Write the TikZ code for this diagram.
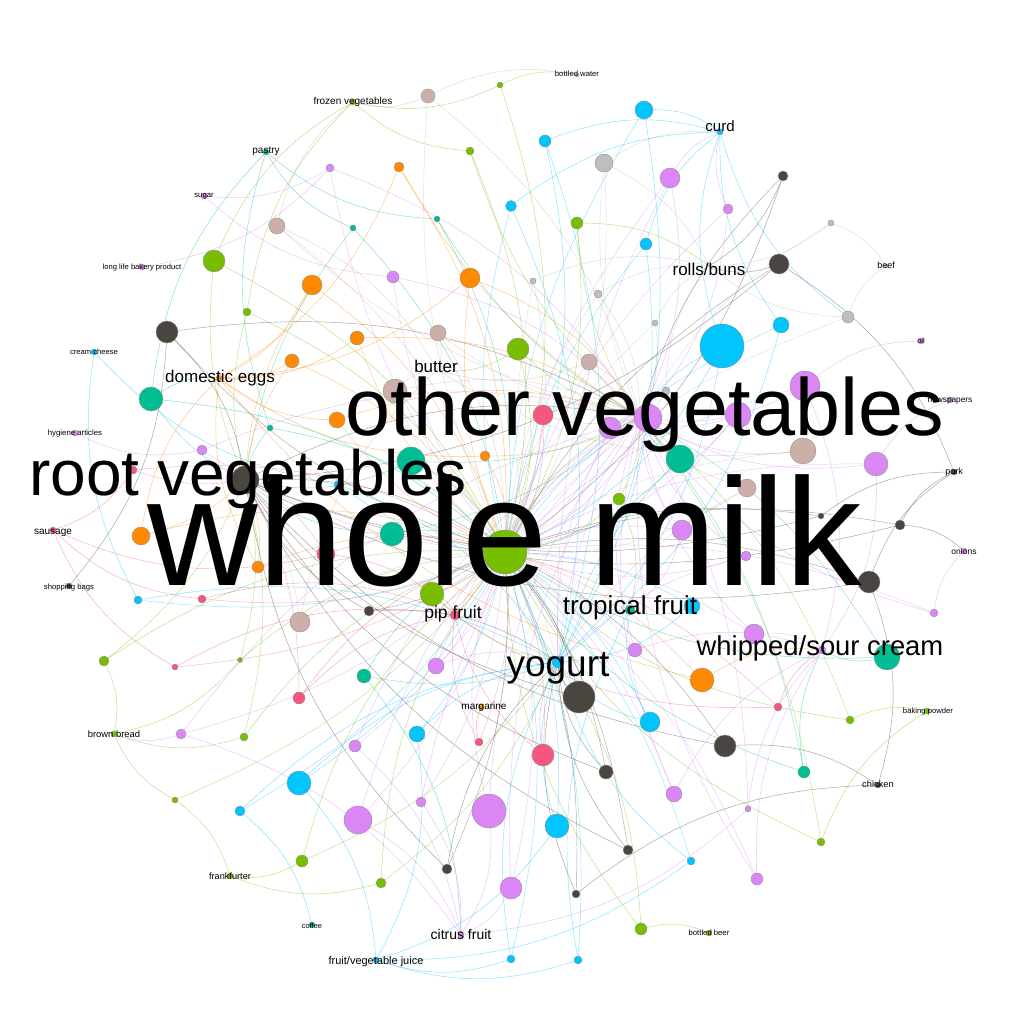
\documentclass[tikz,border=0pt]{standalone}
\usepackage{fontspec}
\setmainfont{Liberation Sans}
\pgfdeclarelayer{bg}
\pgfsetlayers{bg,main}
\definecolor{Cg}{HTML}{78BE00}
\definecolor{Cb}{HTML}{00C5FF}
\definecolor{Cp}{HTML}{DA87F5}
\definecolor{Co}{HTML}{FF8A00}
\definecolor{Ct}{HTML}{00BD94}
\definecolor{Cd}{HTML}{4B4540}
\definecolor{Cn}{HTML}{CDAFAA}
\definecolor{Cr}{HTML}{F4567F}
\definecolor{Cy}{HTML}{BEBEBE}
\newcommand\fsz[1]{\fontsize{#1}{#1}\selectfont}
\begin{document}
\begin{tikzpicture}[x=1pt,y=-1pt,
 rule/.style={circle, draw=black!45, line width=0.35pt, inner sep=0pt},
 idot/.style={circle, draw=black!45, line width=0.3pt, inner sep=0pt, minimum size=6},
 lab/.style={anchor=base, inner sep=0pt, text=black},
 edge/.style={line width=0.45pt, draw opacity=0.5, bend left=18},
 edgeb/.style={line width=0.45pt, draw opacity=0.45, bend right=14}]
\begin{pgfonlayer}{bg}
\fill[white] (0,0) rectangle (1024,1024);
\end{pgfonlayer}
\useasboundingbox (0,0) rectangle (1024,1024);

% item anchor points
\coordinate (wm) at (505,552);
\coordinate (ov) at (640,417);
\coordinate (rv) at (245,480);
\coordinate (rb) at (709,266);
\coordinate (bu) at (437,370);
\node[idot, fill=Cb, minimum size=12] (yo) at (558,662) {};
\node[idot, fill=Cp, minimum size=8] (wsc) at (822,650) {};
\node[idot, fill=Ct, minimum size=10] (tf) at (630,610) {};
\node[idot, fill=Cr, minimum size=10] (pf) at (455,615) {};
\node[idot, fill=Co] (mar) at (481,707) {};
\node[idot, fill=Co] (de) at (219,378) {};
\node[idot, fill=Cb] (curd) at (720,132) {};
\node[idot, fill=Cp] (cf) at (461,935) {};
\node[idot, fill=Cb] (fvj) at (376,960) {};
\node[idot, fill=Cg] (fra) at (230,876) {};
\node[idot, fill=Cg] (bb) at (114,734) {};
\node[idot, fill=Ct] (cof) at (312,925) {};
\node[idot, fill=Cr] (sau) at (53,530) {};
\node[idot, fill=Cd] (sb) at (69,586) {};
\node[idot, fill=Cp] (hyg) at (75,433) {};
\node[idot, fill=Cb] (cc) at (94,352) {};
\node[idot, fill=Cp] (llbp) at (142,267) {};
\node[idot, fill=Cp] (sug) at (204,196) {};
\node[idot, fill=Ct] (pas) at (266,152) {};
\node[idot, fill=Cg] (fv) at (353,102) {};
\node[idot, fill=Cn, minimum size=4] (bw) at (577,75) {};
\node[idot, fill=Cy, minimum size=4] (beef) at (886,266) {};
\node[idot, fill=Cp] (oil) at (921,341) {};
\node[idot, fill=Cp] (news) at (950,400) {};
\node[idot, fill=Cd] (pork) at (954,472) {};
\node[idot, fill=Cp] (oni) at (964,551) {};
\node[idot, fill=Cg] (bp) at (927,711) {};
\node[idot, fill=Cd] (chk) at (878,785) {};
\node[idot, fill=Cg] (bbe) at (709,933) {};

% rule circles
\foreach \n/\x/\y/\s/\c in {
1/428/96/14/n, 2/500/85/6/g, 3/644/110/18/b, 4/545/141/12/b, 5/604/163/18/y,
6/670/178/20/p, 7/783/176/10/d, 8/470/151/8/g, 9/399/167/10/o, 10/330/168/8/p,
11/577/223/12/g, 12/511/206/11/b, 13/728/209/10/p, 14/646/244/12/b, 15/437/219/6/t,
16/353/228/6/t, 17/277/226/16/n, 18/214/261/22/g, 19/779/264/20/d, 20/831/223/6/y,
21/393/277/12/p, 22/312/285/20/o, 23/470/278/20/o, 24/533/281/6/y, 25/598/294/8/y,
26/247/312/8/g, 27/167/332/22/d, 28/655/323/6/y, 29/848/317/12/y, 30/781/325/16/b,
31/722/346/44/b, 32/518/349/22/g, 33/438/333/16/n, 34/357/338/14/o, 35/292/361/14/o,
36/589/362/16/n, 37/805/386/30/p, 38/151/399/24/t, 39/395/391/24/n, 40/337/420/16/o,
41/270/428/6/t, 42/543/415/20/r, 43/666/391/8/y, 44/610/428/22/p, 45/738/415/26/p,
46/411/461/28/t, 47/485/456/10/o, 48/202/450/10/p, 49/133/470/8/r, 50/245/480/28/d,
51/339/485/10/b, 52/680/459/28/t, 53/803/451/26/n, 54/876/464/24/p, 55/747/488/18/n,
56/619/499/12/g, 57/821/516/6/d, 58/900/525/10/d, 59/682/530/20/p, 60/392/534/24/t,
61/326/554/18/r, 62/505/552/44/g, 63/141/536/18/o, 64/258/567/12/o, 65/869/582/22/d,
66/934/613/8/p, 67/432/594/24/g, 68/369/611/10/d, 70/692/606/16/b,
71/138/600/8/b, 72/202/599/8/r, 73/300/622/20/n, 74/754/634/20/p, 75/887/657/26/t,
76/175/667/6/r, 77/240/660/5/g, 78/104/661/10/g, 79/436/666/16/p, 80/364/676/14/t,
81/702/680/24/o, 82/579/697/32/d, 83/299/698/12/r, 84/778/707/8/r, 85/850/720/8/g,
86/181/734/10/p, 87/244/737/8/g, 88/417/734/16/b, 89/479/742/8/r, 90/650/722/20/b,
91/355/746/12/p, 92/543/755/22/r, 93/725/746/22/d, 94/606/772/14/d, 95/804/772/12/t,
96/299/783/24/b, 97/175/800/6/g, 98/240/811/10/b, 99/421/802/10/p, 100/489/811/34/p,
101/358/820/28/p, 102/674/794/16/p, 103/748/809/6/p, 104/557/826/24/b, 105/821/842/8/g,
106/628/850/10/d, 107/302/861/12/g, 108/447/869/10/d, 109/691/861/8/b, 110/381/883/10/g,
111/511/888/22/p, 112/576/894/8/d, 113/757/879/12/p, 114/641/929/12/g, 115/511/959/8/b,
116/578/960/8/b, 117/648/418/28/p, 118/746/556/10/p, 119/635/650/14/p}
  \node[rule, fill=C\c, minimum size=\s] (r\n) at (\x,\y) {};

% connectors
\begin{pgfonlayer}{bg}
\foreach \a/\b/\c in {
1/fv/n,1/bw/n,1/ov/n, 2/bw/g,2/fv/g,2/wm/g, 3/curd/b,3/yo/b, 4/curd/b,4/yo/b,4/wm/b,
5/rb/y,5/curd/y,5/wm/y, 6/curd/p,6/ov/p, 7/rb/d,7/wm/d, 8/fv/g,8/wm/g, 9/de/o,9/wm/o,
10/sug/p,10/llbp/p,10/ov/p, 11/wm/g,11/rb/g, 12/curd/b,12/yo/b, 13/curd/p,13/ov/p,
14/curd/b,14/yo/b, 15/pas/t,15/wm/t, 16/pas/t,16/wm/t, 17/fv/n,17/bu/n,17/wm/n,
18/fv/g,18/wm/g, 19/rb/d,19/rv/d,19/pork/d, 20/beef/y,20/rb/y, 21/sug/p,21/ov/p,
22/de/o,22/wm/o, 23/de/o,23/ov/o, 24/rb/y,24/wm/y, 25/rb/y,25/ov/y, 26/fv/g,26/wm/g,
27/sb/d,27/rv/d,27/ov/d, 28/rb/y,28/ov/y, 29/rb/y,29/beef/y,29/curd/b, 30/curd/b,30/yo/b,
31/curd/b,31/yo/b,31/wm/b, 32/wm/g,32/bu/g, 33/bu/n,33/wm/n, 34/de/o,34/ov/o,
35/de/o,35/wm/o, 36/bu/n,36/ov/n, 37/ov/p,37/wsc/p,37/oil/p, 38/pas/t,38/de/t,38/wm/t,
39/bu/n,39/ov/n, 40/de/o,40/ov/o, 41/pas/t,41/wm/t, 42/pf/r,42/wm/r, 43/rb/y,43/ov/y,
44/ov/p,44/wm/p, 45/ov/p,45/wm/p, 46/wm/t,46/rv/t, 47/de/o,47/wm/o, 48/hyg/p,48/ov/p,
49/sau/r,49/wm/r, 50/wm/d,50/ov/d, 51/yo/b,51/cc/b, 52/ov/t,52/wm/t, 53/bu/n,53/ov/n,
54/ov/p,54/news/p,54/wsc/p, 55/wm/n,55/ov/n, 56/wm/g,56/tf/g, 57/pork/d,57/rv/d,
58/pork/d,58/oni/d,58/rv/d, 59/ov/p,59/tf/p, 60/rv/t,60/wm/t, 61/sau/r,61/pf/r,61/wm/r,
62/ov/g, 63/de/o,63/wm/o, 64/de/o,64/wm/o, 65/pork/d,65/chk/d,65/rv/d, 66/oni/p,66/ov/p,
67/wm/g,67/pf/g, 68/rv/d,68/yo/d, 70/tf/b,70/yo/b, 71/cc/b,71/yo/b, 72/sau/r,72/pf/r,
73/bu/n,73/wm/n, 74/wsc/p,74/ov/p, 75/wsc/t,75/wm/t, 76/sau/r,76/pf/r, 77/bb/g,77/wm/g,
78/bb/g,78/wm/g, 79/ov/p,79/yo/p, 80/wm/t,80/cf/t, 81/de/o,81/wsc/o, 82/yo/d,82/rv/d,
83/pf/r,83/wm/r, 84/wsc/r,84/pf/r, 85/bp/g,85/wm/g, 86/bb/p,86/cf/p,86/ov/p, 87/bb/g,87/wm/g,
88/yo/b,88/fvj/b, 89/mar/r,89/pf/r, 90/yo/b,90/tf/b, 91/ov/p,91/cf/p, 92/pf/r,92/yo/r,
93/chk/d,93/rv/d, 94/yo/d,94/rv/d, 95/wsc/t,95/wm/t, 96/fvj/b,96/yo/b, 97/bb/g,97/fra/g,
98/cof/b,98/yo/b, 99/cf/p,99/ov/p, 100/cf/p,100/ov/p,100/wm/p, 101/ov/p,101/cf/p,
102/wsc/p,102/ov/p, 103/wsc/p,103/cf/p, 104/fvj/b,104/yo/b, 105/bp/g,105/wm/g,
106/yo/d,106/rv/d, 107/fra/g,107/wm/g, 108/rv/d,108/yo/d, 109/yo/b,109/fvj/b,
110/fra/g,110/wm/g, 111/cf/p,111/ov/p, 112/chk/d,112/yo/d, 113/wsc/p,113/ov/p,
114/bbe/g,114/wm/g, 115/fvj/b,115/yo/b, 116/tf/b,116/fvj/b, 117/wm/p, 118/ov/p,118/wm/p,
119/wsc/p,119/ov/p}
  \draw[edge, draw=C\c] (r\a) to (\b);
% further connectors to the large items
\foreach \a/\b/\c in {
1/wm/n, 3/wm/b, 5/ov/y, 6/wm/p, 6/yo/p, 7/ov/d, 8/ov/g, 9/ov/o, 10/wm/p, 11/ov/g,
12/wm/b, 13/wm/p, 14/wm/b, 15/ov/t, 16/rv/t, 17/ov/n, 18/rv/g, 19/wm/d, 20/ov/y,
21/wm/p, 22/rv/o, 23/wm/o, 24/yo/y, 25/wm/y, 26/rv/g, 27/wm/d, 28/wm/y, 29/wm/y,
30/wm/b, 31/ov/b, 32/ov/g, 33/ov/n, 34/wm/o, 35/rv/o, 36/wm/n, 37/wm/p, 38/rv/t,
39/wm/n, 40/wm/o, 41/rv/t, 42/ov/r, 43/wm/y, 44/yo/p, 45/tf/p, 46/ov/t, 47/ov/o,
48/wm/p, 49/rv/r, 51/wm/b, 52/yo/t, 53/wm/n, 54/wm/p, 55/yo/n, 56/ov/g, 57/wm/d,
58/wm/d, 59/wm/p, 60/ov/t, 61/rv/r, 62/yo/g, 63/rv/o, 64/rv/o, 65/wm/d, 66/wm/p,
67/yo/g, 68/wm/d, 70/wm/b, 71/wm/b, 72/wm/r, 73/rv/n, 74/wm/p, 75/ov/t, 76/wm/r,
77/rv/g, 78/rv/g, 79/wm/p, 80/yo/t, 81/wm/o, 82/wm/d, 83/rv/r, 84/wm/r, 85/ov/g,
86/wm/p, 87/rv/g, 88/wm/b, 89/wm/r, 90/wm/b, 91/wm/p, 92/wm/r, 93/wm/d, 94/wm/d,
95/ov/t, 96/wm/b, 97/wm/g, 98/wm/b, 99/wm/p, 101/wm/p, 102/wm/p, 103/ov/p, 104/wm/b,
105/ov/g, 106/wm/d, 107/yo/g, 108/wm/d, 109/wm/b, 110/yo/g, 111/wm/p, 112/wm/d,
113/wm/p, 114/yo/g, 115/wm/b, 116/wm/b, 117/yo/p, 118/yo/p, 119/wm/p}
  \draw[edgeb, draw=C\c] (r\a) to (\b);
\end{pgfonlayer}

% labels
\node[lab, font=\fsz{153}] (wmL) at (505,585) {whole milk};
\node[lab, font=\fsz{81}] (ovL) at (645,435) {other vegetables};
\node[lab, font=\fsz{64}] (rvL) at (248,495) {root vegetables};
\node[lab, font=\fsz{37}] (yoL) at (558,676) {yogurt};
\node[lab, font=\fsz{27.4}] (wscL) at (820,655) {whipped/sour cream};
\node[lab, font=\fsz{26}] (tfL) at (630,614) {tropical fruit};
\node[lab, font=\fsz{17}] (rbL) at (709,275) {rolls/buns};
\node[lab, font=\fsz{15}] (curdL) at (720,132) {curd};
\node[lab, font=\fsz{17}] (deL) at (220,382) {domestic eggs};
\node[lab, font=\fsz{17}] (buL) at (436,372) {butter};
\node[lab, font=\fsz{17.5}] (pfL) at (453,618) {pip fruit};
\node[lab, font=\fsz{14}] (cfL) at (461,939) {citrus fruit};
\node[lab, font=\fsz{11}] (fvjL) at (376,964) {fruit/vegetable juice};
\node[lab, font=\fsz{10}] (marL) at (484,709) {margarine};
\node[lab, font=\fsz{9.2}] (fraL) at (230,879) {frankfurter};
\node[lab, font=\fsz{9.4}] (bbL) at (114,737) {brown bread};
\node[lab, font=\fsz{7.4}] (cofL) at (312,928) {coffee};
\node[lab, font=\fsz{10}] (sauL) at (53,534) {sausage};
\node[lab, font=\fsz{7.7}] (sbL) at (69,589) {shopping bags};
\node[lab, font=\fsz{7.8}] (hygL) at (75,435) {hygiene articles};
\node[lab, font=\fsz{7.6}] (ccL) at (94,354) {cream cheese};
\node[lab, font=\fsz{7.6}] (llbpL) at (142,269) {long life bakery product};
\node[lab, font=\fsz{7.7}] (sugL) at (204,198) {sugar};
\node[lab, font=\fsz{10}] (pasL) at (266,154) {pastry};
\node[lab, font=\fsz{10}] (fvL) at (353,105) {frozen vegetables};
\node[lab, font=\fsz{7.7}] (bwL) at (577,77) {bottled water};
\node[lab, font=\fsz{9}] (beefL) at (886,268) {beef};
\node[lab, font=\fsz{7.5}] (oilL) at (921,343) {oil};
\node[lab, font=\fsz{8.3}] (newsL) at (950,402) {newspapers};
\node[lab, font=\fsz{9}] (porkL) at (954,474) {pork};
\node[lab, font=\fsz{8.5}] (oniL) at (964,554) {onions};
\node[lab, font=\fsz{7.7}] (bpL) at (928,713) {baking powder};
\node[lab, font=\fsz{9.3}] (chkL) at (878,787) {chicken};
\node[lab, font=\fsz{7.7}] (bbeL) at (709,935) {bottled beer};
\end{tikzpicture}
\end{document}
